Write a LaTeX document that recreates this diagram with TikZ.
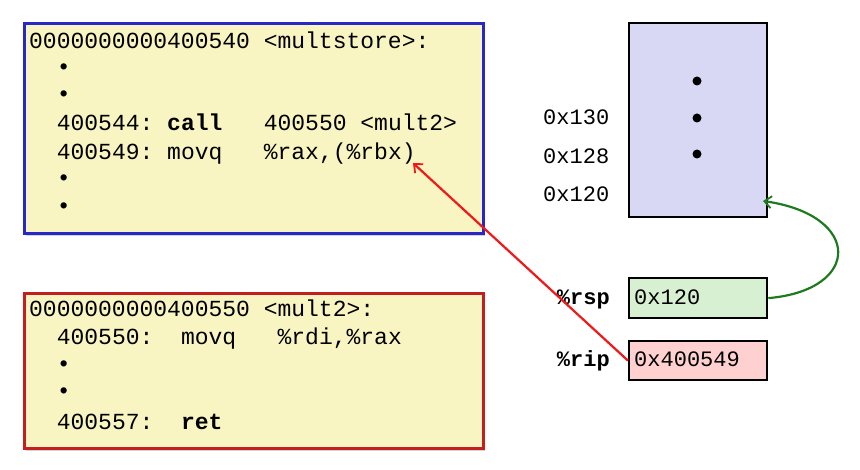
\documentclass[tikz,border=0pt]{standalone}
\usepackage{fontspec}
\newfontfamily\mono{Liberation Mono}
\usetikzlibrary{arrows.meta,shadows}
\definecolor{codebg}{HTML}{F8F5C2}
\definecolor{stackbg}{HTML}{D8D8F4}
\definecolor{rspbg}{HTML}{D8F0D2}
\definecolor{ripbg}{HTML}{FFD0D0}
\definecolor{boxblue}{HTML}{2828C8}
\definecolor{boxred}{HTML}{C41E1E}
\definecolor{arrgreen}{HTML}{1E7A1E}
\definecolor{arrred}{HTML}{F01818}
\begin{document}
\frenchspacing
\begin{tikzpicture}[x=1pt,y=-1pt,
  codebox/.style={draw, line width=2.8pt, fill=codebg, anchor=north west,
    drop shadow={shadow xshift=1.5pt,shadow yshift=-2.5pt,opacity=0.35}},
  codeline/.style={anchor=base west, inner sep=0pt, font=\mono\frenchspacing\fontsize{23}{28}\selectfont},
  addr/.style={anchor=base west, inner sep=0pt, font=\mono\frenchspacing\fontsize{22}{26}\selectfont},
  reglabel/.style={anchor=base east, inner sep=0pt, font=\mono\fontsize{22}{26}\selectfont\bfseries},
  cell/.style={draw, line width=2.3pt, anchor=north west, minimum width=138pt, inner sep=0pt},
  sdot/.style={circle, fill=black, inner sep=0pt, minimum size=9pt},
  arr/.style={line width=2.2pt, -{Straight Barb[length=7pt,width=12pt,line width=1.8pt]}}
]
\useasboundingbox (0,0) rectangle (860,470);

% code boxes
\node[codebox, draw=boxblue, minimum width=459pt, minimum height=210pt] (mstore) at (23,22) {};
\node[codebox, draw=boxred, minimum width=459pt, minimum height=155pt] (mult2) at (23,292) {};

\node[codeline] (a1) at (29,49) {0000000000400540 <multstore>:};
\node[codeline] (a2) at (29,74.5) {~~•};
\node[codeline] (a3) at (29,102) {~~•};
\node[codeline] (a4) at (29,131) {~~400544: \textbf{call}~~~400550 <mult2>};
\node[codeline] (a5) at (29,160) {~~400549: movq~~~\%rax,(\%rbx)};
\node[codeline] (a6) at (29,186) {~~•};
\node[codeline] (a7) at (29,214) {~~•};

\node[codeline] (b1) at (29,317) {0000000000400550 <mult2>:};
\node[codeline] (b2) at (29,345) {~~400550:~~movq~~~\%rdi,\%rax};
\node[codeline] (b3) at (29,372) {~~•};
\node[codeline] (b4) at (29,399) {~~•};
\node[codeline] (b5) at (29,429) {~~400557:~~\textbf{ret}};

% stack
\node[cell, fill=stackbg, minimum height=194pt] (stack) at (628,22) {};
\node[sdot] (d1) at (697,81) {};
\node[sdot] (d2) at (697,118) {};
\node[sdot] (d3) at (697,154) {};
\node[addr] (s130) at (543,125) {0x130};
\node[addr] (s128) at (543,164) {0x128};
\node[addr] (s120) at (543,202) {0x120};

% registers
\node[cell, fill=rspbg, minimum height=40pt] (rsp) at (628,277) {};
\node[cell, fill=ripbg, minimum height=39pt] (rip) at (628,340) {};
\node[addr] (rspv) at (634,305) {0x120};
\node[addr] (ripv) at (634,367) {0x400549};
\node[reglabel] (rspl) at (610,305) {\%rsp};
\node[reglabel] (ripl) at (610,367) {\%rip};

% arrows
\coordinate (tip120) at (763,201);
\coordinate (rbx) at (413,163);
\draw[arr, arrgreen] (rsp.east) .. controls (862,290) and (862,215) .. (tip120);
\draw[arr, arrred] (rip.west) -- (rbx);
\end{tikzpicture}
\end{document}
